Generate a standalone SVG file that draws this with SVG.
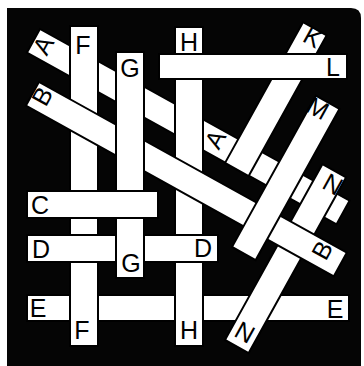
<svg xmlns="http://www.w3.org/2000/svg" width="364" height="366" viewBox="0 0 364 366">
<style>
.s{fill:#fff;stroke:#000;stroke-width:2}
.t{font-family:"Liberation Sans",Arial,sans-serif;font-size:25px;fill:#000;text-anchor:middle;dominant-baseline:central}
</style>
<rect x="0" y="0" width="364" height="366" fill="#fff"/>
<path d="M7,8 H351 Q361,8 361,18 V366 H7 Z" fill="#050505"/>
<g id="E"><rect class="s" x="27" y="295" width="322" height="26"/><text class="t" x="38" y="308">E</text><text class="t" x="335" y="309">E</text></g>
<g id="A"><rect class="s" x="0" y="0" width="354" height="27" transform="translate(40,29) rotate(29)"/><text class="t" transform="translate(43,45) rotate(-61)">A</text><text class="t" transform="translate(215,139) rotate(-61)">A</text></g>
<g id="N"><rect class="s" x="0" y="0" width="201" height="27" transform="translate(225,340) rotate(-61)"/><text class="t" transform="translate(333,184) rotate(29)">N</text><text class="t" transform="translate(245,332) rotate(29)">N</text></g>
<g id="K"><rect class="s" x="0" y="0" width="161" height="27" transform="translate(225,163) rotate(-61)"/><text class="t" transform="translate(313,37) rotate(29)">K</text></g>
<g id="H"><rect class="s" x="175" y="27" width="28" height="319"/><text class="t" x="189" y="42">H</text><text class="t" x="189" y="330">H</text></g>
<g id="F"><rect class="s" x="70" y="26" width="28" height="320"/><text class="t" x="83" y="45">F</text><text class="t" x="82" y="330">F</text></g>
<g id="B"><rect class="s" x="0" y="0" width="352" height="27" transform="translate(39,82) rotate(29)"/><text class="t" transform="translate(42,96) rotate(-61)">B</text><text class="t" transform="translate(322,250) rotate(-61)">B</text></g>
<g id="M"><rect class="s" x="0" y="0" width="173" height="27" transform="translate(232,247) rotate(-61)"/><text class="t" transform="translate(318,108) rotate(29)">M</text></g>
<g id="D"><rect class="s" x="27" y="235" width="191" height="27"/><text class="t" x="41" y="249">D</text><text class="t" x="203" y="248">D</text></g>
<g id="G"><rect class="s" x="116" y="52" width="28" height="226"/><text class="t" x="130" y="68">G</text><text class="t" x="131" y="263">G</text></g>
<g id="C"><rect class="s" x="27" y="191" width="131" height="27"/><text class="t" x="40" y="205">C</text></g>
<g id="L"><rect class="s" x="159" y="54" width="188" height="25"/><text class="t" x="333" y="67">L</text></g>
<g id="connectors"></g>
</svg>
